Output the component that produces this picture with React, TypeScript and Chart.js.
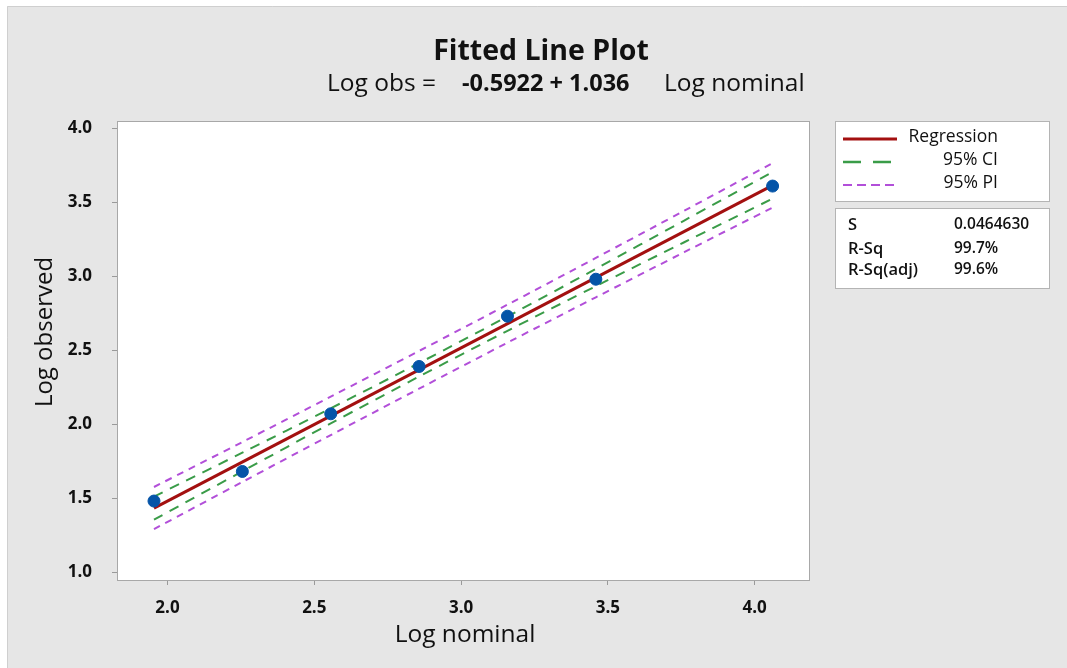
import React, { useEffect, useRef } from "react";
import { Chart, registerables } from "chart.js";

Chart.register(...registerables);

const W = 1067;
const H = 668;

// Observed points
const logNominal = [1.954, 2.255, 2.556, 2.857, 3.158, 3.459, 4.061];
const logObserved = [1.48, 1.68, 2.07, 2.39, 2.73, 2.98, 3.61];

// Fitted regression line (ends)
const fitX = [1.954, 4.061];
const fitY = [1.432, 3.615];

// Confidence / prediction bands
const bandX = [1.954, 2.255, 2.556, 2.857, 3.158, 3.459, 3.76, 4.061];
const ciUpper = [1.51, 1.807, 2.107, 2.413, 2.728, 3.05, 3.377, 3.705];
const ciLower = [1.354, 1.681, 2.005, 2.322, 2.631, 2.933, 3.23, 3.525];
const piUpper = [1.575, 1.879, 2.186, 2.495, 2.808, 3.124, 3.443, 3.765];
const piLower = [1.29, 1.609, 1.926, 2.24, 2.551, 2.858, 3.163, 3.465];

const xTicks = [2.0, 2.5, 3.0, 3.5, 4.0];
const yTicks = [1.0, 1.5, 2.0, 2.5, 3.0, 3.5, 4.0];

const title = "Fitted Line Plot";
const eqLeft = "Log obs =";
const eqMid = "-0.5922 + 1.036";
const eqRight = "Log nominal";
const xTitle = "Log nominal";
const yTitle = "Log observed";
const legendItems = ["Regression", "95% CI", "95% PI"];
const statLabels = ["S", "R-Sq", "R-Sq(adj)"];
const statValues = ["0.0464630", "99.7%", "99.6%"];

const RED = "#a31010";
const GREEN = "#3a9c48";
const PURPLE = "#b24fd9";
const BLUE = "#0454a8";
const FONT = "'Open Sans', 'Noto Sans', sans-serif";

const pts = (xs: number[], ys: number[]) => xs.map((x, i) => ({ x, y: ys[i] }));

const decor = {
  id: "decor",
  beforeDraw(chart: any) {
    const { ctx, chartArea: a } = chart;
    ctx.save();
    ctx.fillStyle = "#ffffff";
    ctx.fillRect(0, 0, W, H);
    ctx.fillStyle = "#e6e6e6";
    ctx.fillRect(7, 6, W - 7, H - 6);
    ctx.strokeStyle = "#cfcfcf";
    ctx.lineWidth = 1;
    ctx.beginPath();
    ctx.moveTo(7.5, H);
    ctx.lineTo(7.5, 6.5);
    ctx.lineTo(W, 6.5);
    ctx.stroke();
    ctx.fillStyle = "#ffffff";
    ctx.fillRect(a.left, a.top, a.right - a.left, a.bottom - a.top);
    ctx.restore();
  },
  afterDraw(chart: any) {
    const { ctx, chartArea: a } = chart;
    ctx.save();
    // plot border
    ctx.strokeStyle = "#a8a8a8";
    ctx.lineWidth = 1;
    ctx.strokeRect(Math.round(a.left) + 0.5, Math.round(a.top) + 0.5, Math.round(a.right - a.left), Math.round(a.bottom - a.top));

    ctx.fillStyle = "#111111";
    ctx.textBaseline = "middle";
    // title
    ctx.font = `bold 28.5px ${FONT}`;
    ctx.textAlign = "center";
    ctx.fillText(title, 541, 52);
    // equation
    ctx.textAlign = "left";
    ctx.font = `24.5px ${FONT}`;
    ctx.fillText(eqLeft, 327, 84);
    ctx.font = `bold 23.5px ${FONT}`;
    ctx.fillText(eqMid, 462, 84);
    ctx.font = `24.5px ${FONT}`;
    ctx.fillText(eqRight, 664, 84);

    // axis titles
    ctx.textAlign = "center";
    ctx.font = `24.5px ${FONT}`;
    ctx.fillText(xTitle, 465, 635);
    ctx.save();
    ctx.translate(45, 332);
    ctx.rotate(-Math.PI / 2);
    ctx.font = `24px ${FONT}`;
    ctx.fillText(yTitle, 0, 0);
    ctx.restore();

    // legend boxes
    ctx.fillStyle = "#ffffff";
    ctx.strokeStyle = "#b4b4b4";
    ctx.fillRect(835.5, 121.5, 214, 80);
    ctx.strokeRect(835.5, 121.5, 214, 80);
    ctx.fillRect(835.5, 208.5, 214, 80);
    ctx.strokeRect(835.5, 208.5, 214, 80);

    const rows = [139, 162, 185];
    const styles = [
      { c: RED, w: 3, d: [] as number[] },
      { c: GREEN, w: 2.5, d: [18, 12] },
      { c: PURPLE, w: 2, d: [9, 5] },
    ];
    styles.forEach((s, i) => {
      ctx.beginPath();
      ctx.strokeStyle = s.c;
      ctx.lineWidth = s.w;
      ctx.setLineDash(s.d);
      ctx.moveTo(843, rows[i]);
      ctx.lineTo(897, rows[i]);
      ctx.stroke();
    });
    ctx.setLineDash([]);
    ctx.fillStyle = "#111111";
    ctx.font = `500 17.5px ${FONT}`;
    ctx.textAlign = "right";
    legendItems.forEach((t, i) => ctx.fillText(t, 998, rows[i] - 2));

    // stats box
    const srows = [225, 249, 270];
    ctx.textAlign = "left";
    ctx.font = `600 16.5px ${FONT}`;
    statLabels.forEach((t, i) => ctx.fillText(t, 848, srows[i]));
    ctx.font = `600 15.5px ${FONT}`;
    statValues.forEach((t, i) => ctx.fillText(t, 954, srows[i]));
    ctx.restore();
  },
};

export default function App() {
  const ref = useRef<HTMLCanvasElement | null>(null);
  useEffect(() => {
    if (!ref.current) return;
    const chart = new Chart(ref.current, {
      type: "scatter",
      data: {
        datasets: [
          {
            label: "Observed",
            data: pts(logNominal, logObserved),
            backgroundColor: BLUE,
            borderColor: BLUE,
            pointRadius: 6,
            showLine: false,
            order: 0,
          },
          {
            label: "Regression",
            data: pts(fitX, fitY),
            borderColor: RED,
            borderWidth: 3,
            pointRadius: 0,
            showLine: true,
            order: 1,
          },
          {
            label: "95% CI upper",
            data: pts(bandX, ciUpper),
            borderColor: GREEN,
            borderWidth: 2,
            borderDash: [10, 8],
            pointRadius: 0,
            showLine: true,
            tension: 0.3,
            order: 2,
          },
          {
            label: "95% CI lower",
            data: pts(bandX, ciLower),
            borderColor: GREEN,
            borderWidth: 2,
            borderDash: [10, 8],
            pointRadius: 0,
            showLine: true,
            tension: 0.3,
            order: 2,
          },
          {
            label: "95% PI upper",
            data: pts(bandX, piUpper),
            borderColor: PURPLE,
            borderWidth: 2,
            borderDash: [7, 6],
            pointRadius: 0,
            showLine: true,
            tension: 0.3,
            order: 3,
          },
          {
            label: "95% PI lower",
            data: pts(bandX, piLower),
            borderColor: PURPLE,
            borderWidth: 2,
            borderDash: [7, 6],
            pointRadius: 0,
            showLine: true,
            tension: 0.3,
            order: 3,
          },
        ],
      },
      options: {
        responsive: false,
        animation: false,
        devicePixelRatio: 1,
        layout: { padding: { left: 0, top: 121, right: W - 809, bottom: 0 } },
        plugins: { legend: { display: false }, tooltip: { enabled: false }, title: { display: false } },
        scales: {
          x: {
            type: "linear",
            min: 1.828,
            max: 4.185,
            afterFit: (s: any) => {
              s.height = H - 580;
            },
            afterBuildTicks: (s: any) => {
              s.ticks = xTicks.map((v) => ({ value: v }));
            },
            grid: { drawOnChartArea: false, drawTicks: true, tickLength: 5, color: "#9a9a9a" },
            border: { display: true, color: "#a8a8a8" },
            ticks: {
              padding: 13,
              color: "#111111",
              font: { family: FONT, size: 17, weight: "bold" },
              callback: (v: any) => Number(v).toFixed(1),
            },
          },
          y: {
            type: "linear",
            min: 0.946,
            max: 4.05,
            afterFit: (s: any) => {
              s.width = 117;
            },
            afterBuildTicks: (s: any) => {
              s.ticks = yTicks.map((v) => ({ value: v }));
            },
            grid: { drawOnChartArea: false, drawTicks: true, tickLength: 5, color: "#9a9a9a" },
            border: { display: true, color: "#a8a8a8" },
            ticks: {
              padding: 20,
              color: "#111111",
              font: { family: FONT, size: 17, weight: "bold" },
              callback: (v: any) => Number(v).toFixed(1),
            },
          },
        },
      },
      plugins: [decor],
    });
    return () => chart.destroy();
  }, []);
  return (
    <div style={{ position: "absolute", left: 0, top: 0, width: W, height: H }}>
      <canvas ref={ref} width={W} height={H} style={{ display: "block", width: W, height: H }} />
    </div>
  );
}
